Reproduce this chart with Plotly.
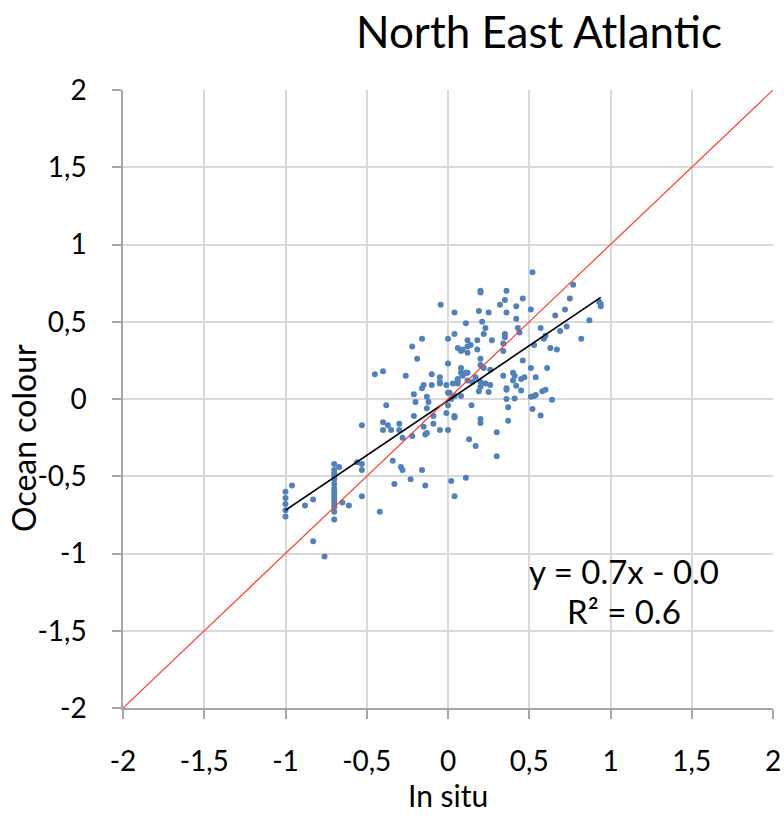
import plotly.graph_objects as go

# ---- data ----
in_situ = [
    # left cluster
    -1.0, -1.0, -1.0, -1.0, -1.0,
    -0.96, -0.88, -0.83, -0.83, -0.76,
    -0.70, -0.70, -0.70, -0.70, -0.70, -0.70, -0.70, -0.70, -0.70, -0.70, -0.70, -0.70, -0.70, -0.70, -0.70,
    -0.67, -0.65, -0.61, -0.56, -0.53, -0.53, -0.53, -0.53, -0.45,
    # -0.45 .. -0.25
    -0.42, -0.38, -0.40, -0.40, -0.37, -0.40, -0.35, -0.30, -0.30, -0.28, -0.34, -0.29, -0.28, -0.33, -0.26,
    # -0.25 .. 0.05
    -0.22, -0.23, -0.16, -0.14,
    -0.22, -0.19, -0.16, -0.045, 0.0, 0.0,
    -0.10, -0.05, -0.05, -0.05, -0.10, -0.15, -0.16,
    -0.21, -0.20, -0.13, -0.12, -0.13,
    -0.01, 0.0, 0.01, 0.03, 0.04, 0.02,
    0.0, -0.01, 0.04, 0.04,
    -0.09, -0.09, -0.15, -0.14, -0.05, 0.0,
    -0.21, -0.13,
    0.02, 0.04,
    # 0.05 .. 0.3
    0.04, 0.04, 0.06, 0.08, 0.08, 0.12,
    0.06, 0.09, 0.12, 0.15, 0.17, 0.20, 0.20, 0.19, 0.23, 0.26, 0.25,
    0.11, 0.145, 0.08, 0.06, 0.11,
    0.13, 0.17, 0.11,
    0.20, 0.20, 0.30, 0.30,
    0.12, 0.14, 0.12, 0.09, 0.06, 0.08, 0.12, 0.18,
    0.20, 0.22, 0.26, 0.20,
    0.22, 0.27, 0.18,
    0.11, 0.21, 0.23, 0.19, 0.25,
    0.20, 0.20,
    # 0.3 .. 0.95
    0.52, 0.36, 0.35, 0.32, 0.36, 0.42, 0.46, 0.51, 0.42, 0.43, 0.44, 0.57, 0.59, 0.60,
    0.35, 0.35, 0.34, 0.34, 0.53, 0.46, 0.34, 0.40, 0.41, 0.40, 0.45, 0.47, 0.54, 0.51, 0.61,
    0.36, 0.36, 0.42, 0.45, 0.58, 0.60, 0.36, 0.41, 0.51, 0.53, 0.54, 0.64,
    0.37, 0.52, 0.57, 0.37,
    0.63, 0.67, 0.66, 0.69, 0.73, 0.72, 0.75, 0.77, 0.82, 0.87, 0.93, 0.94, 0.94,
]

ocean_colour = [
    # left cluster
    -0.60, -0.64, -0.68, -0.72, -0.76,
    -0.56, -0.69, -0.65, -0.92, -1.02,
    -0.42, -0.46, -0.48, -0.50, -0.52, -0.55, -0.58, -0.60, -0.62, -0.64, -0.66, -0.68, -0.70, -0.73, -0.78,
    -0.44, -0.67, -0.69, -0.41, -0.42, -0.46, -0.63, -0.17, 0.16,
    # -0.45 .. -0.25
    -0.73, -0.04, 0.18, -0.15, -0.17, -0.20, -0.20, -0.16, -0.20, -0.25, -0.40, -0.44, -0.46, -0.55, 0.15,
    # -0.25 .. 0.05
    -0.24, -0.52, -0.46, -0.56,
    0.34, 0.26, 0.39, 0.61, 0.39, 0.23,
    0.16, 0.14, 0.11, 0.10, 0.09, 0.09, 0.07,
    0.03, -0.02, 0.015, -0.02, -0.06,
    0.09, 0.04, 0.04, 0.10, 0.02, 0.0,
    -0.04, -0.09, -0.11, -0.12,
    -0.11, -0.16, -0.18, -0.23, -0.20, -0.20,
    -0.11, -0.22,
    -0.53, -0.63,
    # 0.05 .. 0.3
    0.56, 0.42, 0.13, 0.17, 0.20, 0.17,
    0.12, 0.15, 0.12, 0.11, 0.14, 0.11, 0.08, 0.05, 0.10, 0.09, 0.045,
    0.17, -0.04, 0.02, 0.10, -0.51,
    -0.26, -0.305, 0.17,
    -0.13, -0.155, -0.216, -0.37,
    0.38, 0.35, 0.34, 0.32, 0.33, 0.31, 0.30, 0.32,
    0.26, 0.20, 0.19, 0.22,
    0.42, 0.38, 0.38,
    0.49, 0.50, 0.46, 0.57, 0.56,
    0.70, 0.69,
    # 0.3 .. 0.95
    0.82, 0.70, 0.64, 0.61, 0.56, 0.60, 0.65, 0.58, 0.52, 0.46, 0.43, 0.46, 0.39, 0.41,
    0.42, 0.40, 0.36, 0.31, 0.35, 0.25, 0.15, 0.17, 0.15, 0.12, 0.13, 0.14, 0.14, 0.20, 0.20,
    0.07, 0.06, 0.085, 0.055, 0.05, 0.06, 0.0, 0.004, 0.015, 0.02, 0.026, -0.005,
    -0.054, -0.065, -0.106, -0.14,
    0.33, 0.32, 0.54, 0.44, 0.47, 0.58, 0.65, 0.74, 0.39, 0.51, 0.63, 0.615, 0.60,
]

trend_slope = 0.71
trend_intercept = -0.01
trend_x = [-1.0, 0.94]

one_to_one = [-2, 2]

tick_vals = [-2, -1.5, -1, -0.5, 0, 0.5, 1, 1.5, 2]
tick_text = ["-2", "-1,5", "-1", "-0,5", "0", "0,5", "1", "1,5", "2"]

title_text = "North East Atlantic"
x_title = "In situ"
y_title = "Ocean colour"
eq_text = "y = 0.7x - 0.0"
r2_text = "R² = 0.6"

FONT = "Lato, 'Open Sans', sans-serif"

fig = go.Figure()
fig.add_trace(go.Scatter(
    x=in_situ, y=ocean_colour, mode="markers",
    marker=dict(color="#4F81BD", size=6, line=dict(width=0)),
    showlegend=False, hoverinfo="skip",
))
fig.add_trace(go.Scatter(
    x=trend_x, y=[trend_slope * v + trend_intercept for v in trend_x],
    mode="lines", line=dict(color="black", width=1.6),
    showlegend=False, hoverinfo="skip",
))
fig.add_trace(go.Scatter(
    x=one_to_one, y=one_to_one, mode="lines",
    line=dict(color="#FF3B30", width=1.2),
    showlegend=False, hoverinfo="skip",
))

axis_common = dict(
    range=[-2, 2], tickvals=tick_vals, ticktext=tick_text,
    showgrid=True, gridcolor="#D9D9D9", gridwidth=1.5,
    zeroline=False, showline=True, linecolor="#A6A6A6", linewidth=1.5,
    ticks="outside", ticklen=9, tickcolor="#A6A6A6", tickwidth=1.5,
    tickfont=dict(family=FONT, size=28, color="black"),
    automargin=False,
)

fig.update_layout(
    width=784, height=819,
    margin=dict(l=123, r=11, t=90, b=111),
    paper_bgcolor="white", plot_bgcolor="white",
    font=dict(family=FONT, color="black"),
    xaxis=dict(**axis_common, ticklabelstandoff=19),
    yaxis=dict(**axis_common, ticklabelstandoff=20),
    annotations=[
        dict(text=title_text, xref="paper", yref="paper", x=0.64, y=1.0, yshift=59,
             xanchor="center", yanchor="middle", showarrow=False,
             font=dict(family=FONT, size=44, color="black")),
        dict(text=y_title, xref="paper", yref="paper", x=0, xshift=-99, y=0.437,
             textangle=-90, xanchor="center", yanchor="middle", showarrow=False,
             font=dict(family=FONT, size=32, color="black")),
        dict(text=x_title, xref="paper", yref="paper", x=0.5, y=0, yshift=-87,
             xanchor="center", yanchor="middle", showarrow=False,
             font=dict(family=FONT, size=30, color="black")),
        dict(text=eq_text, x=1.08, y=-1.11, xref="x", yref="y",
             xanchor="center", yanchor="middle", showarrow=False,
             font=dict(family=FONT, size=33, color="black")),
        dict(text=r2_text, x=1.08, y=-1.375, xref="x", yref="y",
             xanchor="center", yanchor="middle", showarrow=False,
             font=dict(family=FONT, size=33, color="black")),
    ],
)

fig.write_html(
    "out.html",
    config={"displayModeBar": False},
    post_script="document.body.style.margin='0';document.body.style.overflow='hidden';",
)
